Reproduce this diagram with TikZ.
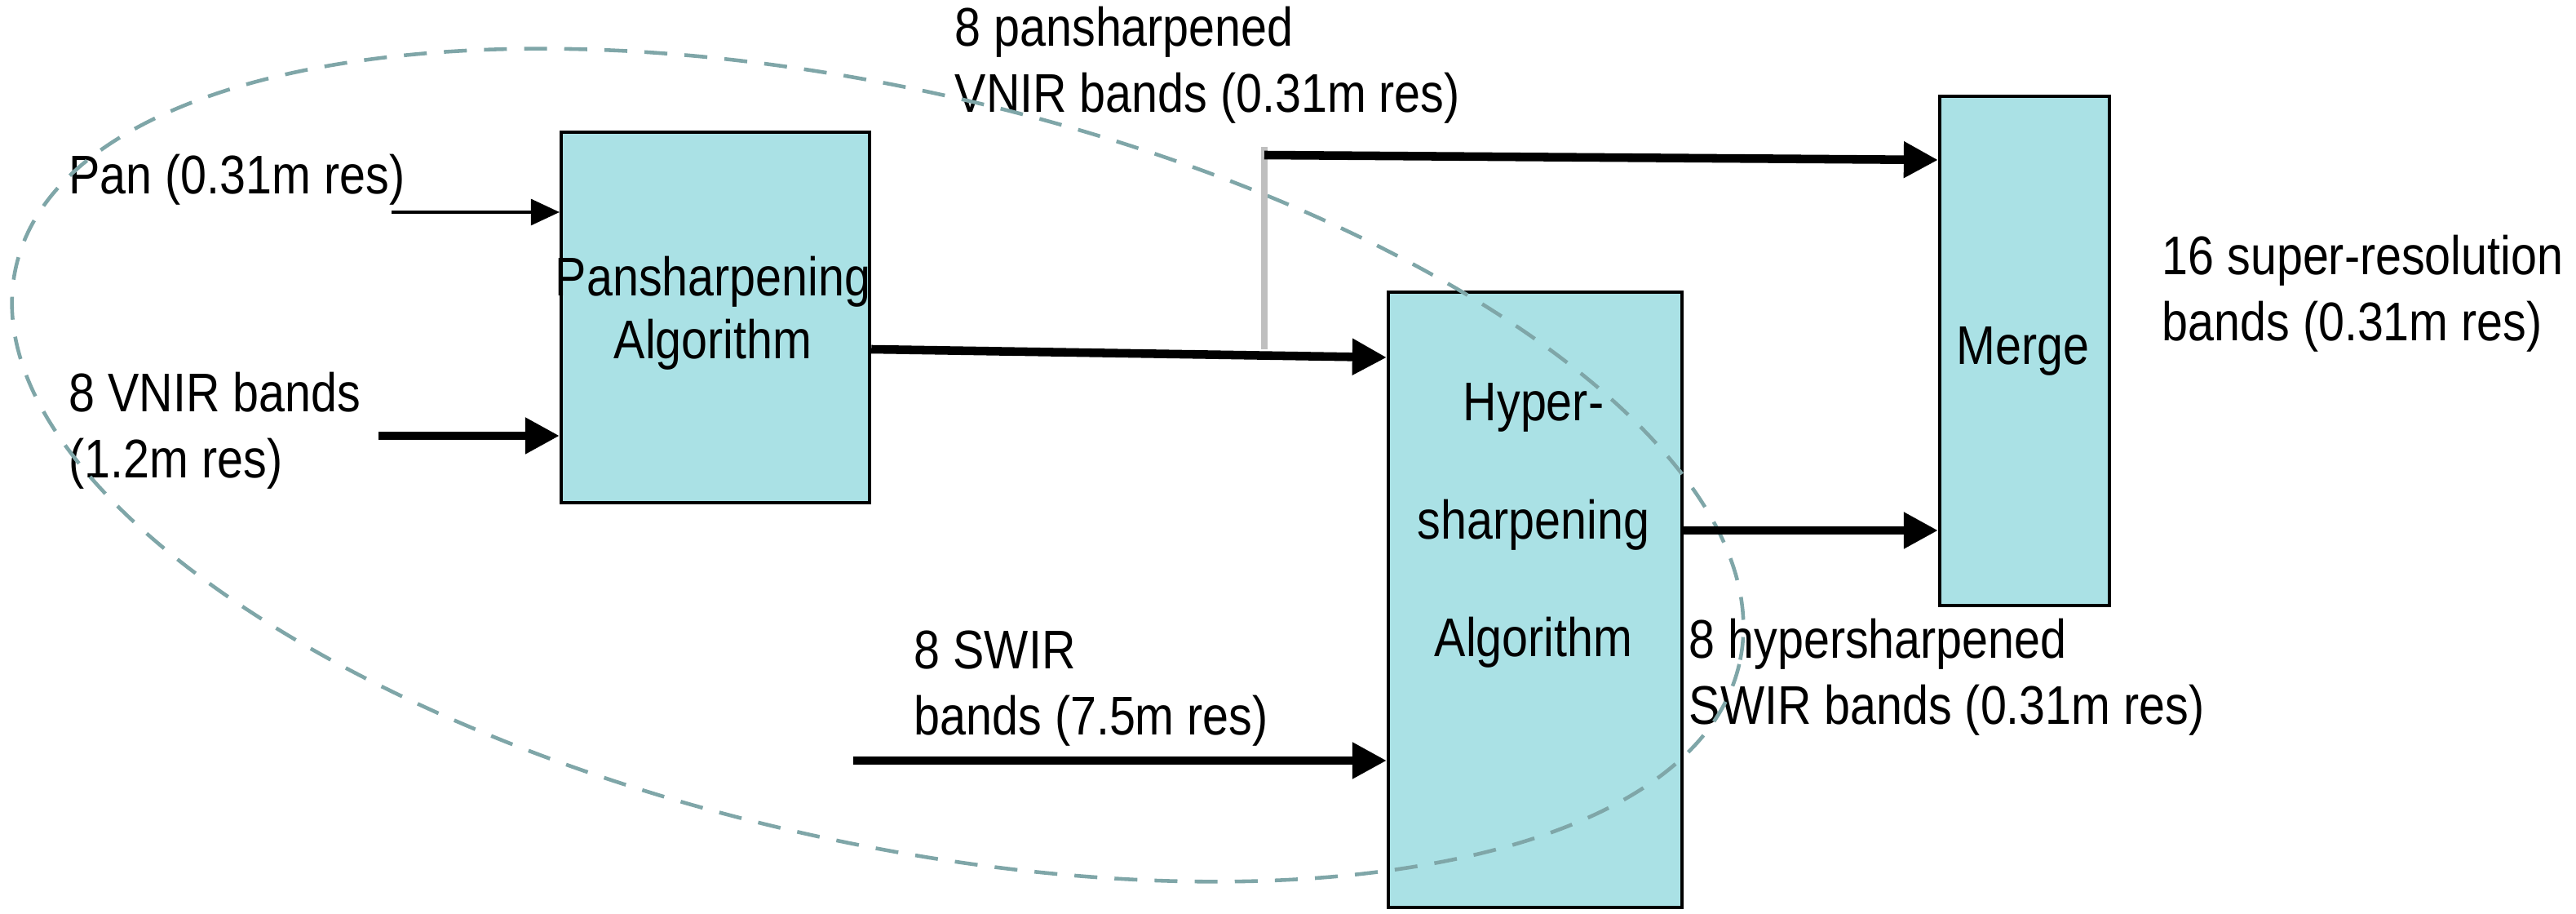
\documentclass[tikz,border=0pt]{standalone}
\usepackage{fontspec}
\setmainfont{Liberation Sans}[FakeStretch=0.86]
\usetikzlibrary{arrows.meta}
\definecolor{boxfill}{HTML}{AAE1E5}
\definecolor{ell}{HTML}{7FA6A8}
\begin{document}
\begin{tikzpicture}[x=0.02cm,y=-0.02cm,
  box/.style={draw=black,line width=1.2pt,fill=boxfill,inner sep=0pt,anchor=north west},
  lbl/.style={font=\fontsize{19pt}{23pt}\selectfont,align=left,anchor=west,inner sep=0pt},
  thick arr/.style={line width=3pt,-{Triangle[length=12pt,width=12pt]}},
  thin arr/.style={line width=1.2pt,-{Triangle[length=10pt,width=9pt]}}]
\useasboundingbox (0,0) rectangle (1579,560);
\node[box,minimum width=189*0.02cm,minimum height=227*0.02cm] (pan) at (343,80) {};
\node[box,minimum width=180*0.02cm,minimum height=377*0.02cm] (hyp) at (850,178) {};
\node[box,minimum width=104*0.02cm,minimum height=312*0.02cm] (mrg) at (1188,58) {};
\node[font=\fontsize{19pt}{22pt}\selectfont,align=center] (pant) at (437,192) {Pansharpening\\Algorithm};
\node[font=\fontsize{19pt}{41pt}\selectfont,align=center] (hypt) at (940,322) {Hyper-\\sharpening\\Algorithm};
\node[font=\fontsize{19pt}{23pt}\selectfont] (mrgt) at (1240,215) {Merge};
\node[lbl] (l1) at (42,110) {Pan (0.31m res)};
\node[lbl] (l2) at (42,264) {8 VNIR bands\\(1.2m res)};
\node[lbl] (l3) at (585,40) {8 pansharpened\\VNIR bands (0.31m res)};
\node[lbl] (l4) at (1325,180) {16 super-resolution\\bands (0.31m res)};
\node[lbl] (l5) at (1035,415) {8 hypersharpened\\SWIR bands (0.31m res)};
\node[lbl] (l6) at (560,422) {8 SWIR\\bands (7.5m res)};
\draw[ell,line width=1.3pt,dash pattern=on 8pt off 6pt,rotate around={-13:(538,285)}] (538,285) ellipse [x radius=542,y radius=230];
\coordinate (a1) at (240,130);
\coordinate (a2) at (232,267);
\coordinate (a3) at (523,466);
\coordinate (sp) at (775,214);
\coordinate (st) at (775,95);
\draw[thin arr] (a1) -- (pan.west |- a1);
\draw[thick arr] (a2) -- (pan.west |- a2);
\draw[thick arr] (pan.east |- sp) -- (hyp.west |- 0,219);
\draw[gray!50,line width=2.5pt] (sp) -- ([yshift=0.1cm]st);
\draw[thick arr] (st) -- (mrg.west |- 0,98);
\draw[thick arr] (hyp.east |- 0,325) -- (mrg.west |- 0,325);
\draw[thick arr] (a3) -- (hyp.west |- a3);
\end{tikzpicture}
\end{document}
